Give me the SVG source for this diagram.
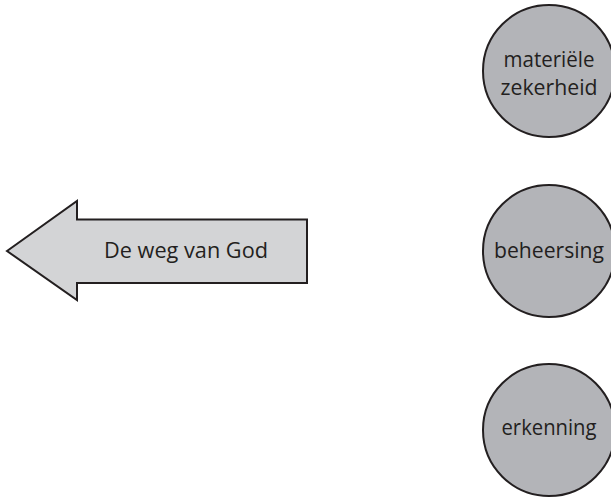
<svg xmlns="http://www.w3.org/2000/svg" width="611" height="500" viewBox="0 0 611 500">
<style>
.c{fill:#b3b4b8;stroke:#231f20;stroke-width:2}
.a{fill:#d3d4d6;stroke:#231f20;stroke-width:2}
text{font-family:"Open Sans","Liberation Sans",sans-serif;fill:#231f20;text-anchor:middle}
.t{font-size:21.5px}
.at{font-size:21px}
</style>
<g id="arrow">
<polygon class="a" points="7,251 77,201 77,219.5 307,219.5 307,283 77,283 77,300"/>
<text class="at" x="186" y="258" textLength="164" lengthAdjust="spacingAndGlyphs">De weg van God</text>
</g>
<g id="node1">
<circle class="c" cx="549" cy="71" r="66"/>
<text class="t" x="549" y="67" textLength="91" lengthAdjust="spacingAndGlyphs">materiële</text>
<text class="t" x="549" y="95" textLength="97" lengthAdjust="spacingAndGlyphs">zekerheid</text>
</g>
<g id="node2">
<circle class="c" cx="549" cy="251" r="66"/>
<text class="t" x="549" y="258" textLength="110" lengthAdjust="spacingAndGlyphs">beheersing</text>
</g>
<g id="node3">
<circle class="c" cx="549" cy="430" r="66"/>
<text class="t" x="549" y="435" textLength="95" lengthAdjust="spacingAndGlyphs">erkenning</text>
</g>
<g id="connectors"></g>
</svg>
